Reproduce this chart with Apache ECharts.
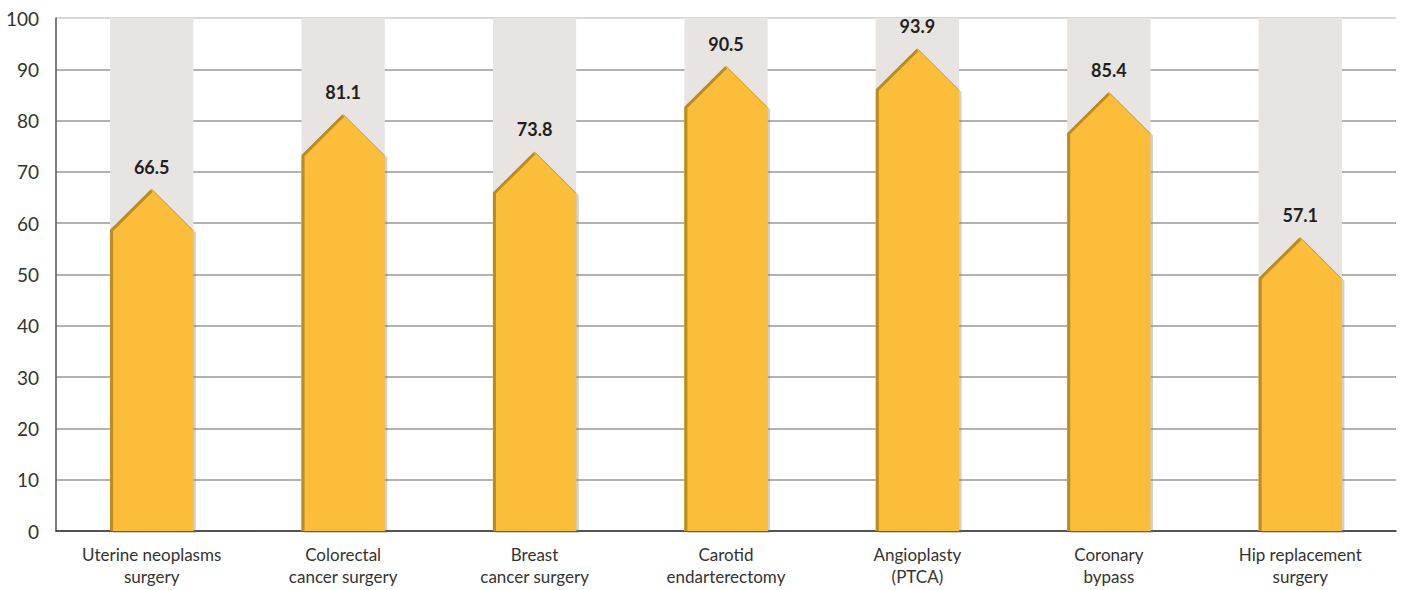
<!DOCTYPE html>
<html>
	<head>
		<meta charset="UTF-8">
		<title>Surgery chart</title>
		<script type="text/javascript" src="https://cdn.jsdelivr.net/npm/echarts@6/dist/echarts.min.js"></script>
		<style>
			html, body { margin: 0; padding: 0; background: #fff; }
			#main { width: 1402px; height: 590px; }
		</style>
	</head>
<body>
	<div id="main"></div>
	<script type="text/javascript">
		// 数据
		var categories = ['Uterine neoplasms\nsurgery', 'Colorectal\ncancer surgery', 'Breast\ncancer surgery', 'Carotid\nendarterectomy', 'Angioplasty\n(PTCA)', 'Coronary\nbypass', 'Hip replacement\nsurgery'];
		var values = [66.5, 81.1, 73.8, 90.5, 93.9, 85.4, 57.1];
		var yTicks = [0, 10, 20, 30, 40, 50, 60, 70, 80, 90, 100];

		var chart = echarts.init(document.getElementById('main'), null, { renderer: 'svg' });

		var data = [];
		for (var i = 0; i < values.length; i++) {
			data.push([i, values[i]]);
		}

		function renderItem(params, api) {
			var idx = api.value(0);
			var val = api.value(1);
			var top = api.coord([idx, 100]);
			var peak = api.coord([idx, val]);
			var base = api.coord([idx, 0]);
			var w = api.size([1, 0])[0] * 0.435;
			var cx = peak[0];
			var l = cx - w / 2, r = cx + w / 2;
			var yp = peak[1] - 1;
			var ys = yp + w / 2;
			var y0 = base[1];
			return {
				type: 'group',
				children: [
					{
						type: 'rect',
						shape: { x: l, y: top[1], width: w, height: y0 - top[1] },
						style: { fill: '#E7E4E1' }
					},
					// 阴影
					{
						type: 'polygon',
						shape: { points: [[l + 3, y0 + 2], [l + 3, ys + 2], [cx + 2, yp + 2], [r + 2.5, ys + 2], [r + 2.5, y0 + 2]] },
						style: { fill: 'rgba(120,120,120,0.35)' }
					},
					{
						type: 'polygon',
						shape: { points: [[l, y0], [l, ys], [cx, yp], [r, ys], [r, y0]] },
						style: { fill: '#FCBD3A' }
					},
					{
						type: 'polyline',
						shape: { points: [[l + 1.5, y0], [l + 1.5, ys], [cx, yp + 1.8]] },
						style: { stroke: '#BB8B24', lineWidth: 3, fill: null }
					},
					{
						type: 'polyline',
						shape: { points: [[cx, yp + 0.5], [r - 0.5, ys]] },
						style: { stroke: '#D9A22E', lineWidth: 1, fill: null }
					},
					{
						type: 'text',
						style: {
							text: val.toFixed(1),
							x: cx,
							y: yp - 22,
							textAlign: 'center',
							textVerticalAlign: 'middle',
							font: 'bold 18px Lato',
							fill: '#231F20'
						}
					}
				]
			};
		}

		var option = {
			animation: false,
			grid: {
				left: 56,
				right: 6,
				top: 18,
				bottom: 59
			},
			xAxis: {
				type: 'category',
				data: categories,
				axisTick: { show: false },
				axisLine: { lineStyle: { color: '#333', width: 1.5 } },
				axisLabel: {
					color: '#333',
					fontFamily: 'Lato',
					fontSize: 17,
					lineHeight: 22,
					margin: 12,
					interval: 0
				}
			},
			yAxis: {
				type: 'value',
				min: yTicks[0],
				max: yTicks[yTicks.length - 1],
				interval: 10,
				axisLine: { show: true, lineStyle: { color: '#555', width: 1.5 } },
				axisTick: { show: false },
				axisLabel: {
					color: '#333',
					fontFamily: 'Lato',
					fontSize: 19,
					margin: 17
				},
				splitLine: {
					lineStyle: {
						color: ['#999', '#999', '#999', '#999', '#999', '#999', '#999', '#999', '#999', '#999', '#ccc'],
						width: 1.5
					}
				}
			},
			series: [{
				type: 'custom',
				renderItem: renderItem,
				data: data,
				encode: { x: 0, y: 1 }
			}]
		};
		chart.setOption(option);
	</script>
</body>
</html>
